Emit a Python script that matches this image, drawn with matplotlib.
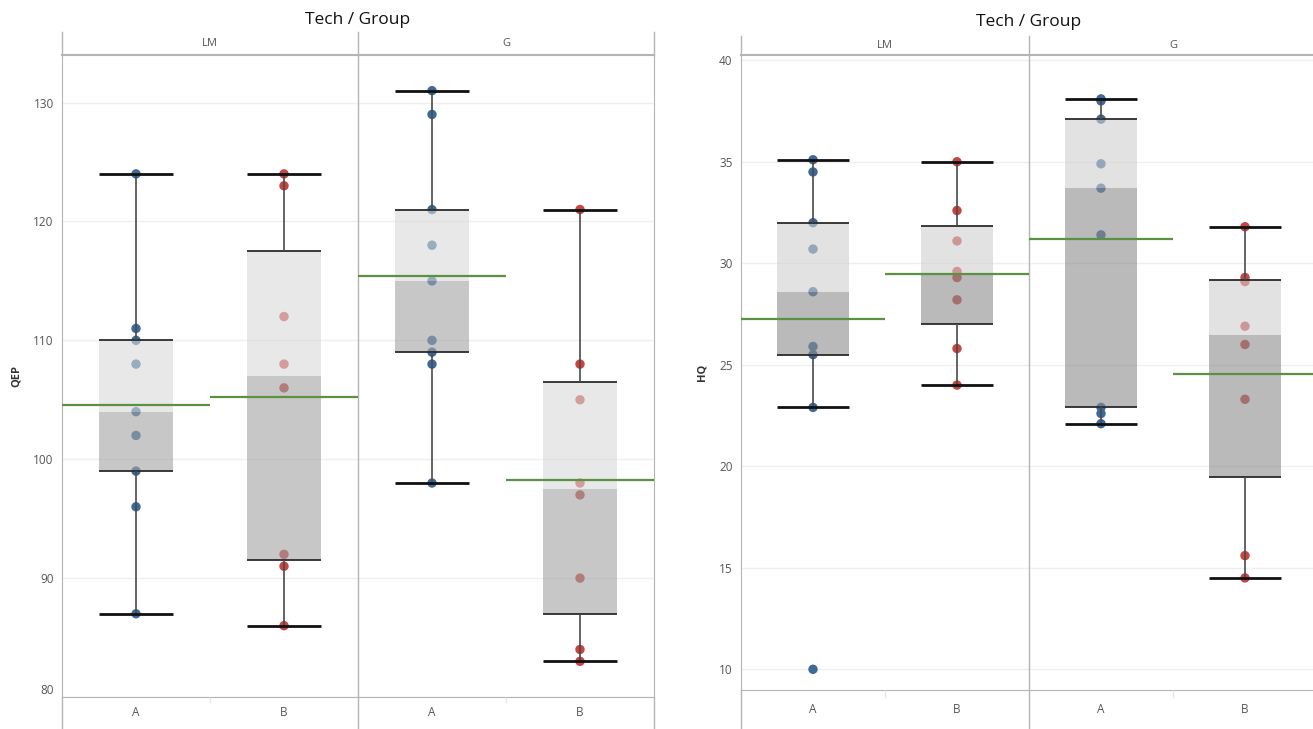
import matplotlib
matplotlib.use("Agg")
import matplotlib.pyplot as plt
import numpy as np

plt.rcParams['font.family'] = ['Open Sans', 'DejaVu Sans']

# ---------------- data ----------------
techs = ["LM", "G"]
groups = ["A", "B"]

qep_lm_a = [124, 111, 110, 108, 104, 102, 99, 96, 87]
qep_lm_b = [124, 123, 112, 108, 106, 92, 91, 86]
qep_g_a = [131, 129, 121, 118, 115, 110, 109, 108, 98]
qep_g_b = [121, 108, 105, 98, 97, 90, 84, 83]

hq_lm_a = [35.1, 34.5, 32.0, 30.7, 28.6, 25.9, 25.5, 22.9, 10.0]
hq_lm_b = [35.0, 32.6, 31.1, 29.6, 29.3, 28.2, 25.8, 24.0]
hq_g_a = [38.1, 38.0, 37.1, 34.9, 33.7, 31.4, 22.9, 22.6, 22.1]
hq_g_b = [31.8, 29.3, 29.1, 26.9, 26.0, 23.3, 15.6, 14.5]

qep_ticks = [80, 90, 100, 110, 120, 130]
hq_ticks = [10, 15, 20, 25, 30, 35, 40]

# ---------------- style ----------------
W, H = 1313, 729
BLUE = "#3d6a9a"
RED = "#c8463f"
GREEN = "#5b9140"
BORDER = "#b4b4b4"
GRID = "#efefef"
TXT = "#555555"

fig = plt.figure(figsize=(W / 100, H / 100), dpi=100)


def ax_px(x0, y0, x1, y1):
    return fig.add_axes([x0 / W, 1 - y1 / H, (x1 - x0) / W, (y1 - y0) / H])


def median(v):
    v = sorted(v)
    n = len(v)
    return v[n // 2] if n % 2 else (v[n // 2 - 1] + v[n // 2]) / 2


def hinges(v):
    v = sorted(v)
    n = len(v)
    h = (n + 1) // 2
    return median(v[:h]), median(v), median(v[n - h:])


def draw_chart(x0, x1, y_head, y_top, y_bot, y_end, ncols_px, data, ylim, ticks,
               ylabel, light_c, dark_c, right_border, title_y):
    xmax = -0.5 + (x1 - x0) / ncols_px
    # main axes
    ax = ax_px(x0, y_top, x1, y_bot)
    ax.set_xlim(-0.5, xmax)
    ax.set_ylim(*ylim)
    ax.set_yticks(ticks)
    ax.set_xticks([])
    ax.spines["top"].set_visible(False)
    ax.spines["left"].set_color(BORDER)
    ax.spines["bottom"].set_color(BORDER)
    ax.spines["right"].set_color(BORDER)
    ax.spines["right"].set_visible(right_border)
    ax.tick_params(axis="y", length=0, labelsize=8.5, labelcolor=TXT, pad=6)
    for t in ticks:
        ax.axhline(t, color=GRID, lw=1, zorder=0)
    ax.axvline(1.5, color=BORDER, lw=1, zorder=1)
    ax.set_ylabel(ylabel, fontsize=8, fontweight="bold", color="#333333", labelpad=8)
    labs = ax.get_yticklabels()
    if ticks[0] == ylim[0]:
        labs[0].set_va("bottom")

    bw = 0.5
    for i, vals in enumerate(data):
        color = BLUE if i % 2 == 0 else RED
        q1, med, q3 = hinges(vals)
        iqr = q3 - q1
        lo = min(v for v in vals if v >= q1 - 1.5 * iqr)
        hi = max(v for v in vals if v <= q3 + 1.5 * iqr)
        ax.scatter([i] * len(vals), vals, s=46, color=color, zorder=2,
                   edgecolors="none")
        # boxes (median-Q3 light, Q1-median dark)
        ax.bar(i, q3 - med, bottom=med, width=bw, color=light_c, alpha=0.6,
               zorder=3, linewidth=0)
        ax.bar(i, med - q1, bottom=q1, width=bw, color=dark_c, alpha=0.6,
               zorder=3, linewidth=0)
        ax.hlines([q1, q3], i - bw / 2, i + bw / 2, color="#2b2b2b", lw=1.3, zorder=4)
        # whiskers
        ax.vlines(i, q3, hi, color="#4a4a4a", lw=1.2, zorder=4)
        ax.vlines(i, lo, q1, color="#4a4a4a", lw=1.2, zorder=4)
        ax.hlines([lo, hi], i - bw / 2, i + bw / 2, color="#111111", lw=2.0, zorder=4)
        # mean reference line across the cell
        ax.hlines(np.mean(vals), i - 0.5, i + 0.5, color=GREEN, lw=1.6, zorder=5)

    # header
    hx = ax_px(x0, y_head, x1, y_top)
    hx.set_xlim(-0.5, xmax)
    hx.set_ylim(0, 1)
    hx.axis("off")
    hx.axhline(0, color=BORDER, lw=1.5, clip_on=False)
    for xv in [-0.5, 1.5] + ([3.5] if right_border else []):
        hx.axvline(xv, color=BORDER, lw=1, clip_on=False)
    for k, t in enumerate(techs):
        hx.text(0.5 + 2 * k, 0.5, t, ha="center", va="center", fontsize=8, color=TXT)

    # footer
    fx = ax_px(x0, y_bot, x1, y_end)
    fx.set_xlim(-0.5, xmax)
    fx.set_ylim(0, 1)
    fx.axis("off")
    for xv in [-0.5, 1.5] + ([3.5] if right_border else []):
        fx.axvline(xv, color=BORDER, lw=1, clip_on=False)
    for xv in [0.5, 2.5]:
        fx.vlines(xv, 0.8, 1.0, color="#e6e6e6", lw=1)
    for k in range(4):
        fx.text(k, 0.5, groups[k % 2], ha="center", va="center", fontsize=8.5, color=TXT)

    # title
    xc = x0 + 2 * ncols_px
    fig.text(xc / W, 1 - title_y / H, "Tech / Group", ha="center", va="center",
             fontsize=12.5, color="#111111")
    return ax


draw_chart(62, 654, 32, 55, 697, 729, 148,
           [qep_lm_a, qep_lm_b, qep_g_a, qep_g_b], (80, 134), qep_ticks, "QEP",
           "#d9d9d9", "#a3a3a3", True, 20)

draw_chart(741, 1313, 36, 55, 690, 729, 144,
           [hq_lm_a, hq_lm_b, hq_g_a, hq_g_b], (8.98, 40.26), hq_ticks, "HQ",
           "#d0d0d0", "#8c8c8c", False, 22)

fig.savefig("out.png", dpi=100)
